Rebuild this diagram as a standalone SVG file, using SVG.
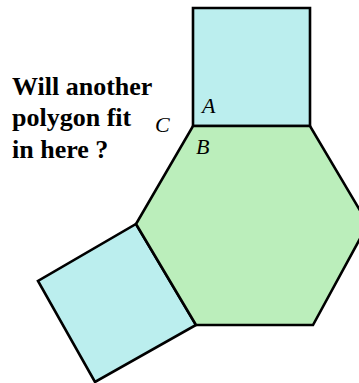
<svg xmlns="http://www.w3.org/2000/svg" width="359" height="383" viewBox="0 0 359 383">
<style>
.sq{fill:#bbeeee;stroke:#000;stroke-width:2.6;stroke-linejoin:miter}
.hx{fill:#bbeebb;stroke:#000;stroke-width:2.6;stroke-linejoin:miter}
.q{font-family:"Liberation Serif","Times New Roman",serif;font-weight:bold;font-size:26px;fill:#000}
.lb{font-family:"Liberation Serif","Times New Roman",serif;font-style:italic;font-size:22px;fill:#000}
</style>
<rect width="359" height="383" fill="#fff"/>
<g id="square-top"><polygon class="sq" points="193,8 310,8 310,126 193,126"/></g>
<g id="square-left"><polygon class="sq" points="136,224 196,325 95,382 38,281"/></g>
<g id="hexagon"><polygon class="hx" points="193,126 310,126 368,224 313,325 196,325 136,224"/></g>
<g id="question">
<text class="q" x="12" y="95">Will another</text>
<text class="q" x="12" y="126">polygon fit</text>
<text class="q" x="12" y="158">in here ?</text>
</g>
<g id="labels">
<text class="lb" x="202" y="113">A</text>
<text class="lb" x="155" y="132">C</text>
<text class="lb" x="196" y="154">B</text>
</g>
</svg>
